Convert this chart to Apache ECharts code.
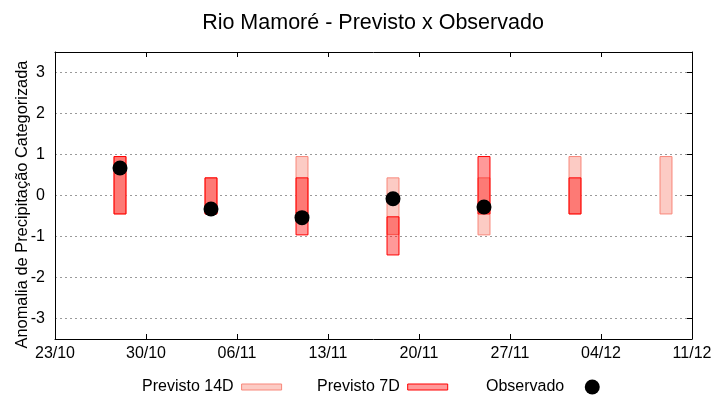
<!DOCTYPE html>
<html><head><meta charset="utf-8">
<script src="https://cdn.jsdelivr.net/npm/echarts@6/dist/echarts.min.js"></script>
<style>html,body{margin:0;padding:0;background:#fff}#c{width:720px;height:400px}</style>
</head><body><div id="c"></div>
<script>
const xStart = '2024-10-23';
const xTickLabels = ['23/10','30/10','06/11','13/11','20/11','27/11','04/12','11/12'];
const weekDates = ['2024-10-28','2024-11-04','2024-11-11','2024-11-18','2024-11-25','2024-12-02','2024-12-09'];
const prev14Low  = [-0.45, -0.45, -0.45, -0.95, -0.96, -0.45, -0.45];
const prev14High = [ 0.95,  0.43,  0.95,  0.43,  0.43,  0.95,  0.95];
const prev7Low   = [-0.45, -0.45, -0.96, -1.45, -0.45, -0.45, null];
const prev7High  = [ 0.95,  0.43,  0.43, -0.52,  0.95,  0.43, null];
const observed   = [ 0.67, -0.33, -0.54, -0.08, -0.28, null, null];

const DAY = 86400000;
const dayOf = d => (Date.parse(d + 'T00:00:00Z') - Date.parse(xStart + 'T00:00:00Z')) / DAY;
const xs = weekDates.map(dayOf);

const FONT = 'Liberation Sans';
const C14 = {fill:'#fccbc4', stroke:'#f8877a'};
const C7 = {fill:'rgba(255,0,0,0.4)', stroke:'#ff0000'};

function rangeRenderer(col){
  return function(params, api){
    const x = api.value(0), lo = api.value(1), hi = api.value(2);
    if (isNaN(lo) || isNaN(hi)) return null;
    const pHi = api.coord([x, hi]);
    const pLo = api.coord([x, lo]);
    const w = api.size([0.92, 0])[0];
    return {type:'rect', shape:{x: pHi[0]-w/2, y: pHi[1], width: w, height: pLo[1]-pHi[1]},
            style:{fill: col.fill, stroke: col.stroke, lineWidth: 1}};
  };
}

const d14 = xs.map((x,i)=>[x, prev14Low[i], prev14High[i]]);
const d7 = xs.map((x,i)=>[x, prev7Low[i], prev7High[i]]).filter(d=>d[1]!==null);
const dObs = xs.map((x,i)=>[x, observed[i]]).filter(d=>d[1]!==null);

const gridStyle = {show:true, lineStyle:{color:'#9a9a9a', type:[2,3], width:1}};
const legendText = {fontFamily:FONT, fontSize:16, color:'#000', padding:[0,3,0,0]};
const chart = echarts.init(document.getElementById('c'), null, {renderer:'canvas'});
chart.setOption({
  animation:false,
  backgroundColor:'#fff',
  textStyle:{fontFamily:FONT},
  title:{text:'Rio Mamoré - Previsto x Observado', left:368, textAlign:'center', top:7,
    textStyle:{fontFamily:FONT, fontSize:21.5, fontWeight:'normal', color:'#000'}},
  grid:{left:55, right:28, top:52, bottom:61, containLabel:false, outerBoundsMode:'none'},
  legend:[
    {left:142, top:379, padding:0, align:'right', itemWidth:40, itemHeight:6,
     textStyle:legendText,
     data:[{name:'Previsto 14D', icon:'rect', itemStyle:{color:C14.fill, borderColor:C14.stroke, borderWidth:1}}]},
    {left:317, top:379, padding:0, align:'right', itemWidth:40, itemHeight:6,
     textStyle:legendText,
     data:[{name:'Previsto 7D', icon:'rect', itemStyle:{color:'#ff9999', borderColor:C7.stroke, borderWidth:1}}]},
    {left:486, top:379, padding:0, align:'right', itemWidth:40, itemHeight:15,
     textStyle:legendText,
     data:[{name:'Observado', icon:'circle', itemStyle:{color:'#000'}}]}
  ],
  xAxis:[
    {type:'value', min:0, max:49, interval:7, position:'bottom',
     axisLine:{show:true, onZero:false, lineStyle:{color:'#000', width:1}},
     axisTick:{show:true, inside:true, length:5, lineStyle:{color:'#000'}},
     axisLabel:{fontFamily:FONT, fontSize:16, color:'#000', margin:7,
       formatter:v=>xTickLabels[Math.round(v/7)]},
     splitLine:{show:false}},
    {type:'value', min:0, max:49, interval:7, position:'top',
     axisLine:{show:true, onZero:false, lineStyle:{color:'#000', width:1}},
     axisTick:{show:true, inside:true, length:5, lineStyle:{color:'#000'}},
     axisLabel:{show:false}, splitLine:{show:false}}
  ],
  yAxis:[
    {type:'value', min:-3.5, max:3.5, splitNumber:7, minInterval:1, maxInterval:1, position:'left',
     name:'Anomalia de Precipitação Categorizada', nameLocation:'middle', nameGap:25, nameMoveOverlap:false,
     nameTextStyle:{fontFamily:FONT, fontSize:16.4, color:'#000', padding:[0,18,0,0]},
     axisLine:{show:true, onZero:false, lineStyle:{color:'#000', width:1}},
     axisTick:{show:false},
     axisLabel:{fontFamily:FONT, fontSize:16, color:'#000', margin:10, showMinLabel:false, showMaxLabel:false,
       formatter:v=>Number.isInteger(v)?String(v):''},
     splitLine:gridStyle},
    {type:'value', min:-3.5, max:3.5, splitNumber:7, minInterval:1, maxInterval:1, position:'right',
     axisLine:{show:true, onZero:false, lineStyle:{color:'#000', width:1}},
     axisTick:{show:true, inside:true, length:5, lineStyle:{color:'#000'}},
     axisLabel:{show:false}, splitLine:{show:false}}
  ],
  series:[
    {name:'Previsto 14D', type:'custom', renderItem:rangeRenderer(C14), data:d14,
     encode:{x:0, y:[1,2]}, itemStyle:{color:C14.fill}, z:2},
    {name:'Previsto 7D', type:'custom', renderItem:rangeRenderer(C7), data:d7,
     encode:{x:0, y:[1,2]}, itemStyle:{color:'#ff9999'}, z:3},
    {name:'Observado', type:'scatter', data:dObs, symbol:'circle', symbolSize:15,
     itemStyle:{color:'#000', opacity:1}, z:4}
  ]
});
</script></body></html>
